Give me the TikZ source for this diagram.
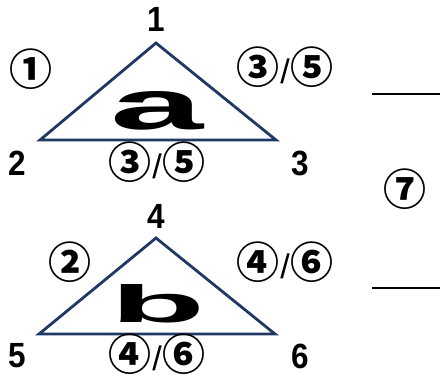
\documentclass[tikz,border=0pt]{standalone}
\usepackage{fontspec}
\setmainfont{Liberation Sans}
\newfontfamily\cjk{Noto Sans CJK JP}
\newfontfamily\slfont{Liberation Sans}
\definecolor{navy}{HTML}{203864}
\tikzset{
  tri/.style={draw=navy, line width=2.8pt, line join=miter},
  num/.style={font=\fontsize{35}{35}\selectfont\bfseries, inner sep=0pt},
  circ/.style={font=\cjk\bfseries\fontsize{43}{43}\selectfont, inner sep=0pt},
  bar/.style={draw=black, line width=2.8pt},
}
\newcommand{\nd}[1]{\scalebox{0.9}[1]{#1}}
\newcommand{\myslash}{\hspace{1pt}{\slfont\mdseries\fontsize{34}{34}\selectfont/}\hspace{1pt}}
\begin{document}
\begin{tikzpicture}[x=1pt,y=-1pt]
\useasboundingbox (0,0) rectangle (440,376);
% triangle a
\coordinate (A1) at (156,43);
\coordinate (A2) at (40,140);
\coordinate (A3) at (276,140);
\draw[tri] (A1) -- (A2) -- (A3) -- cycle;
\node[num] (n1) at (156,19) {\nd{1}};
\node[num] (n2) at (17,163) {\nd{2}};
\node[num] (n3) at (300,163) {\nd{3}};
\node[circ] (c1) at (31,69) {①};
\node[circ] (c35a) at (285,67) {③\myslash⑤};
\node[circ] (c35b) at (157,162) {③\myslash⑤};
\node[inner sep=0pt] (la) at (157,111) {\resizebox{93pt}{38pt}{\bfseries a}};
% triangle b
\coordinate (B1) at (156,238);
\coordinate (B2) at (39,334);
\coordinate (B3) at (275,334);
\draw[tri] (B1) -- (B2) -- (B3) -- cycle;
\node[num] (n4) at (156,216) {\nd{4}};
\node[num] (n5) at (17,356) {\nd{5}};
\node[num] (n6) at (300,356) {\nd{6}};
\node[circ] (c2) at (70,262) {②};
\node[circ] (c46a) at (285,262) {④\myslash⑥};
\node[circ] (c46b) at (157,354) {④\myslash⑥};
\node[inner sep=0pt] (lb) at (158,304) {\resizebox{95pt}{38pt}{\bfseries b}};
% right
\node[circ] (c7) at (405,189) {⑦};
\coordinate (L1a) at (372,94);
\coordinate (L1b) at (440,94);
\coordinate (L2a) at (372,288);
\coordinate (L2b) at (440,288);
\draw[bar] (L1a) -- (L1b);
\draw[bar] (L2a) -- (L2b);
\end{tikzpicture}
\end{document}
